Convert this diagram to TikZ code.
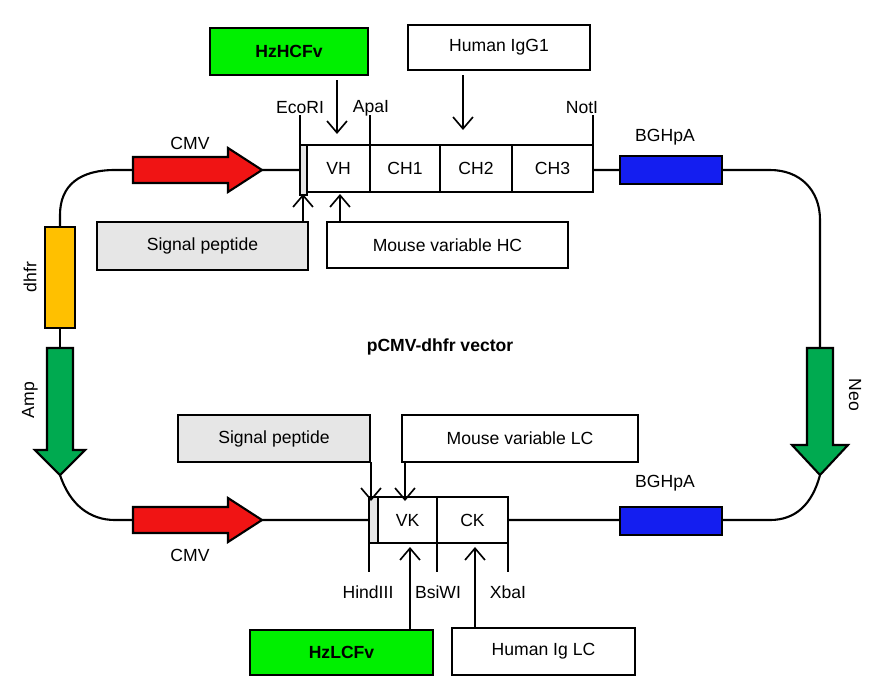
\documentclass[tikz,border=0pt]{standalone}
\usepackage{fontspec}
\setmainfont{Liberation Sans}
\usetikzlibrary{arrows.meta}
\definecolor{cmvred}{RGB}{240,20,20}
\definecolor{bghblue}{RGB}{20,30,240}
\definecolor{dhfrorange}{RGB}{255,192,0}
\definecolor{ampgreen}{RGB}{0,170,80}
\definecolor{hzgreen}{RGB}{0,240,0}
\definecolor{sigcol}{RGB}{230,230,230}
\tikzset{
  box/.style={draw, line width=1.4pt, inner sep=0pt, font=\fontsize{15}{17}\selectfont},
  seg/.style={box, minimum height=1.41cm},
  lab/.style={font=\fontsize{15}{17}\selectfont, inner sep=1pt},
  pt/.style={-{Straight Barb[length=10pt,width=17pt]}, line width=1.4pt},
  bb/.style={line width=1.8pt}
}
\begin{document}
\begin{tikzpicture}[x=0.03cm, y=-0.03cm]
\useasboundingbox (0,0) rectangle (877,694);

% loop
\draw[bb] (60,227) -- (60,215) .. controls (60,185) and (80,170) .. (115,170) -- (300,170);
\draw[bb] (593,170) -- (770,170) .. controls (800,170) and (820,190) .. (820,220) -- (820,348);
\draw[bb] (820,475) .. controls (812,505) and (795,520) .. (770,520) -- (508,520);
\draw[bb] (60,475) .. controls (70,505) and (90,520) .. (115,520) -- (369,520);

% top line
\draw[bb, fill=cmvred] (133,157) -- (228,157) -- (228,148) -- (262,170) -- (228,192) -- (228,183) -- (133,183) -- cycle;
\draw[line width=1.2pt, fill=sigcol] (300,145) rectangle (307,195);
\node[seg, minimum width=1.89cm] (vh) at (338.5,168.5) {VH};
\node[seg, minimum width=2.1cm] (ch1) at (405,168.5) {CH1};
\node[seg, minimum width=2.16cm] (ch2) at (476,168.5) {CH2};
\node[seg, minimum width=2.43cm] (ch3) at (552.5,168.5) {CH3};
\node[box, fill=bghblue, minimum width=3.06cm, minimum height=0.84cm] (bgh1) at (671,170) {};
\node[lab] at (190,143) {CMV};
\node[lab] at (665,137) {BGHpA};

% top sites
\draw[line width=1.4pt] (300,115) -- (300,145);
\draw[line width=1.4pt] (370,115) -- (370,145);
\draw[line width=1.4pt] (593,115) -- (593,145);
\node[lab] at (300,108) {EcoRI};
\node[lab] at (371,108) {ApaI};
\node[lab] at (582,108) {NotI};

% top boxes
\node[box, fill=hzgreen, minimum width=4.74cm, minimum height=1.41cm, font=\bfseries\fontsize{15}{17}\selectfont] (hzh) at (289,51.5) {HzHCFv};
\node[box, minimum width=5.46cm, minimum height=1.35cm] (igg) at (499,47.5) {Human IgG1};
\node[box, fill=sigcol, minimum width=6.33cm, minimum height=1.44cm] (sph) at (202.5,246) {Signal peptide};
\node[box, minimum width=7.23cm, minimum height=1.38cm] (mvh) at (447.5,245) {Mouse variable HC};
\coordinate (a1) at (337,80);  \coordinate (b1) at (337,134);
\coordinate (a2) at (463,75);  \coordinate (b2) at (463,130);
\coordinate (a3) at (303,222); \coordinate (b3) at (303,194);
\coordinate (a4) at (340,222); \coordinate (b4) at (340,194);
\draw[pt] (a1) -- (b1);
\draw[pt] (a2) -- (b2);
\draw[pt] (a3) -- (b3);
\draw[pt] (a4) -- (b4);

% side elements
\node[box, fill=dhfrorange, minimum width=0.9cm, minimum height=3.03cm] (dhfr) at (60,277.5) {};
\draw[bb, fill=ampgreen] (47,348) -- (73,348) -- (73,450) -- (85,450) -- (60,475) -- (35,450) -- (47,450) -- cycle;
\draw[bb, fill=ampgreen] (807,348) -- (833,348) -- (833,445) -- (848,445) -- (820,475) -- (792,445) -- (807,445) -- cycle;
\draw[bb] (dhfr.south) -- (60,348);
\node[lab, rotate=90] at (30,277) {dhfr};
\node[lab, rotate=90] at (30,400) {Amp};
\node[lab, rotate=-90] at (855,395) {Neo};
\node[font=\bfseries\fontsize{15}{17}\selectfont] at (440,347) {pCMV-dhfr vector};

% bottom line
\draw[bb, fill=cmvred] (133,507) -- (228,507) -- (228,498) -- (262,520) -- (228,542) -- (228,533) -- (133,533) -- cycle;
\draw[line width=1.2pt, fill=sigcol] (369,497) rectangle (378,543);
\node[seg, minimum width=1.77cm, minimum height=1.38cm] (vk) at (407.5,520) {VK};
\node[seg, minimum width=2.13cm, minimum height=1.38cm] (ck) at (472.5,520) {CK};
\node[box, fill=bghblue, minimum width=3.06cm, minimum height=0.84cm] (bgh2) at (671,521) {};
\node[lab] at (190,555) {CMV};
\node[lab] at (665,483) {BGHpA};

% bottom sites
\draw[line width=1.4pt] (369,543) -- (369,572);
\draw[line width=1.4pt] (437,543) -- (437,572);
\draw[line width=1.4pt] (508,543) -- (508,572);
\node[lab] at (368,592) {HindIII};
\node[lab] at (438,592) {BsiWI};
\node[lab] at (508,592) {XbaI};

% bottom boxes
\node[box, fill=sigcol, minimum width=5.76cm, minimum height=1.41cm] (spl) at (274,438.5) {Signal peptide};
\node[box, minimum width=7.08cm, minimum height=1.41cm] (mvl) at (520,438.5) {Mouse variable LC};
\node[box, fill=hzgreen, minimum width=5.49cm, minimum height=1.35cm, font=\bfseries\fontsize{15}{17}\selectfont] (hzl) at (341.5,652.5) {HzLCFv};
\node[box, minimum width=5.49cm, minimum height=1.41cm] (igl) at (543.5,651.5) {Human Ig LC};
\coordinate (c1) at (371,462); \coordinate (d1) at (371,501);
\coordinate (c2) at (405,462); \coordinate (d2) at (405,501);
\coordinate (c3) at (410,630); \coordinate (d3) at (410,547);
\coordinate (c4) at (475,628); \coordinate (d4) at (475,547);
\draw[pt] (c1) -- (d1);
\draw[pt] (c2) -- (d2);
\draw[pt] (c3) -- (d3);
\draw[pt] (c4) -- (d4);
\end{tikzpicture}
\end{document}
